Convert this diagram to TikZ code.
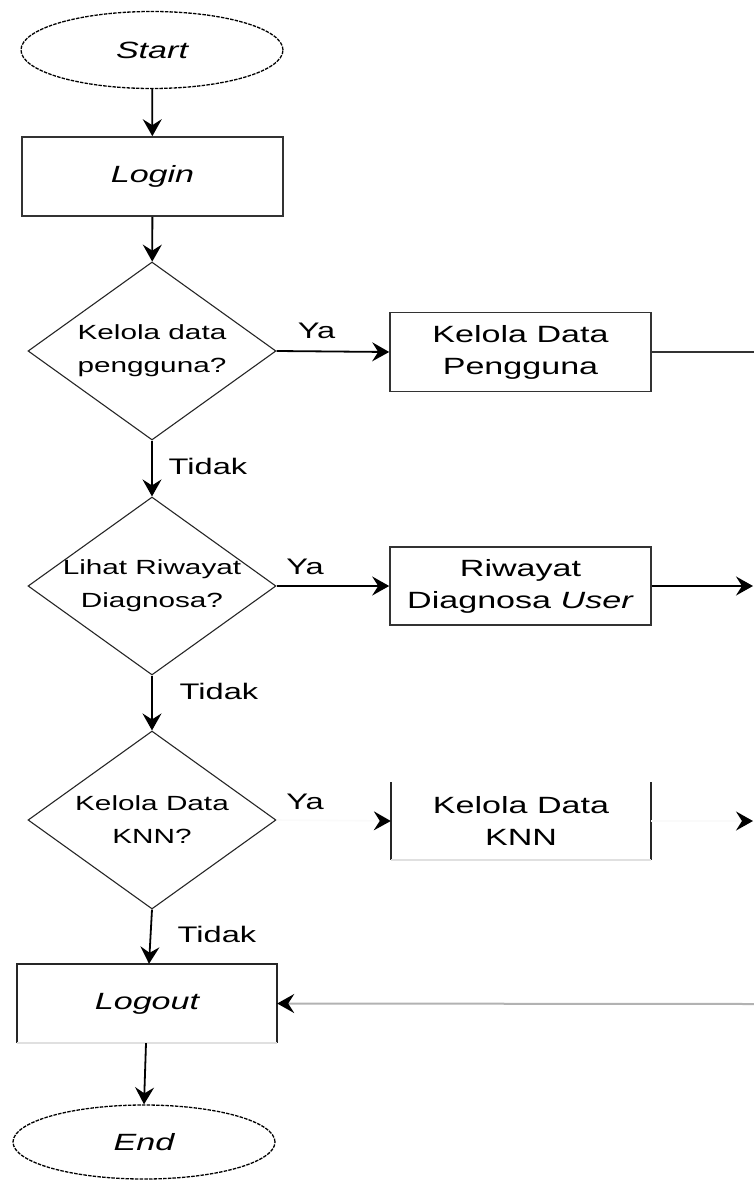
\documentclass[tikz,border=0pt]{standalone}
\usepackage{fontspec}
\setmainfont{Liberation Sans}[FakeStretch=1.45]
\usetikzlibrary{shapes.geometric,arrows.meta}

\begin{document}
\begin{tikzpicture}[x=1pt,y=-1pt,
  every node/.style={inner sep=0pt},
  terminal/.style={ellipse, draw=black, line width=1.3pt, dash pattern=on 3.5pt off 1.2pt,
    minimum width=262pt, minimum height=77pt, font=\fontsize{23.5}{32}\selectfont\itshape},
  process/.style={rectangle, draw=black!80, line width=1.6pt, minimum width=261pt,
    minimum height=79pt, align=center, font=\fontsize{23.5}{32}\selectfont},
  openbox/.style={rectangle, minimum width=261pt, minimum height=77pt, align=center,
    font=\fontsize{23.5}{32}\selectfont},
  decision/.style={diamond, draw=black!85, line width=1.1pt, minimum width=248pt, minimum height=178pt},
  dtext/.style={align=center, font=\fontsize{20.5}{33}\selectfont},
  lbl/.style={font=\fontsize{22.5}{27}\selectfont},
  side/.style={draw=black!85, line width=1.6pt},
  faint/.style={draw=black!12, line width=1.6pt},
  tip/.style={-{Stealth[length=17pt,width=19pt,inset=6pt]}},
  flow/.style={tip, line width=1.8pt, draw=black},
  plain/.style={line width=2pt, draw=black!80},
  ghost/.style={-{Stealth[length=17pt,width=19pt,inset=6pt,black]}, line width=1.6pt, draw=black!2},
  back/.style={-{Stealth[length=17pt,width=19pt,inset=6pt,black]}, line width=2pt, draw=black!30}
]
\useasboundingbox (0,0) rectangle (754,1180);

% main column
\node[terminal] (start) at (152,50) {Start};
\node[process]  (login) at (152.5,176.5) {\itshape Login};

\node[decision] (d1) at (152,351) {};
\node[dtext] (d1t) at (d1) {Kelola data\\pengguna?};

\node[decision] (d2) at (152,586) {};
\node[dtext] (d2t) at (d2) {Lihat Riwayat\\Diagnosa?};

\node[decision] (d3) at (152,820) {};
\node[dtext] (d3t) at (d3) {Kelola Data\\KNN?};

% logout box with a faint lower edge
\node[openbox, minimum height=79pt, minimum width=260pt] (logout) at (147,1003.5) {\itshape Logout};
\draw[side] (logout.south west) -- (logout.north west) -- (logout.north east) -- (logout.south east);
\draw[faint] (logout.south west) -- (logout.south east);

\node[terminal, minimum height=74pt] (end) at (144,1142) {End};

% right column
\node[process] (kdp) at (520.5,352) {Kelola Data\\Pengguna};
\node[process, minimum height=78pt] (rdu) at (520.5,586) {Riwayat\\Diagnosa \textit{User}};

\node[openbox, minimum width=260pt] (knn) at (521,821) {Kelola Data\\KNN};
\draw[side] (knn.north west) -- (knn.south west);
\draw[side] (knn.north east) -- (knn.south east);
\draw[faint] (knn.south west) -- (knn.south east);

% free ends at the right border
\coordinate (r1) at (754,352);
\coordinate (r2) at (753,586);
\coordinate (r3) at (753,821);
\coordinate (r4) at (754,1004);

% connectors
\draw[flow] (start) -- (login);
\draw[flow] (login) -- (d1);
\draw[flow] (d1) -- (d2);
\draw[flow] (d2) -- (d3);
\draw[flow] (d3.south) -- ([xshift=2pt]logout.north);
\draw[flow] ([xshift=-1pt]logout.south) -- (end.north);

\draw[flow] (d1.east) -- (kdp.west);
\draw[flow] (d2.east) -- (rdu.west);
\draw[ghost] (d3.east) -- (knn.west);

\draw[plain] (kdp.east) -- (r1);
\draw[flow] (rdu.east) -- (r2);
\draw[ghost] (knn.east) -- (r3);
\draw[back] (r4) -- (logout.east);

% branch labels
\node[lbl] (ya1) at (316.5,331) {Ya};
\node[lbl] (ya2) at (305,567) {Ya};
\node[lbl] (ya3) at (305,802) {Ya};
\node[lbl] (t1) at (208,466) {Tidak};
\node[lbl] (t2) at (219,691) {Tidak};
\node[lbl] (t3) at (217,934) {Tidak};
\end{tikzpicture}
\end{document}
